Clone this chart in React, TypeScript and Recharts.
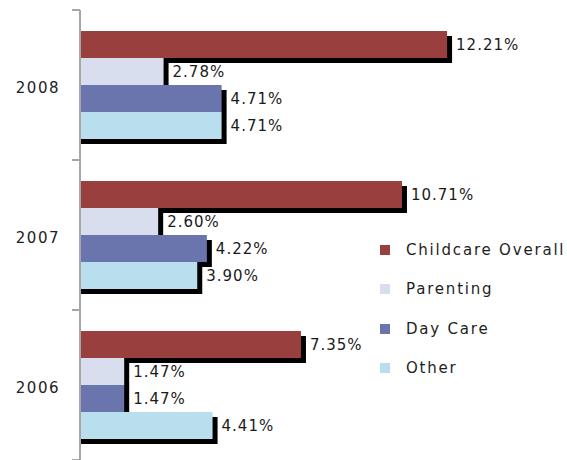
import { BarChart, Bar, XAxis, YAxis, LabelList } from 'recharts'

const years = ['2008', '2007', '2006']
const childcareOverall = [12.21, 10.71, 7.35]
const parenting = [2.78, 2.6, 1.47]
const dayCare = [4.71, 4.22, 1.47]
const other = [4.71, 3.9, 4.41]

const seriesNames = ['Childcare Overall', 'Parenting', 'Day Care', 'Other']
const seriesKeys = ['childcare', 'parenting', 'dayCare', 'other']
const seriesColors = ['#993f3d', '#d9deee', '#6b75ad', '#b9dfee']

const data = years.map((year, i) => ({
  year,
  childcare: childcareOverall[i],
  parenting: parenting[i],
  dayCare: dayCare[i],
  other: other[i],
}))

const W = 567
const H = 470
const MARGIN = { top: 10, right: 6, bottom: 10, left: 0 }
const AXIS_W = 80
const BAND = (H - MARGIN.top - MARGIN.bottom) / years.length
const FONT = '"DejaVu Sans", sans-serif'

function ShadowBar(props: any) {
  const { x, y, width, height, fill } = props
  if (width == null || height == null) return null
  return (
    <g>
      <rect x={x} y={y + 5} width={width + 5} height={height} fill="#000" />
      <rect x={x} y={y} width={width} height={height} fill={fill} />
    </g>
  )
}

function BarLabel(props: any) {
  const { x, y, width, height, value } = props
  return (
    <text
      x={Number(x) + Number(width) + 9}
      y={Number(y) + Number(height) / 2}
      dominantBaseline="central"
      fill="#1a1a1a"
      fontSize={15}
      letterSpacing={1}
      fontFamily={FONT}
    >
      {Number(value).toFixed(2)}%
    </text>
  )
}

function YearTick(props: any) {
  const { x, y, payload, index } = props
  const top = y - BAND / 2
  return (
    <g>
      <text
        x={x}
        y={y + 3}
        textAnchor="end"
        dominantBaseline="central"
        fill="#222"
        fontSize={15}
        letterSpacing={1.5}
        fontFamily={FONT}
      >
        {payload.value}
      </text>
      <line x1={AXIS_W - 8} x2={AXIS_W} y1={top} y2={top} stroke="#a6a6a6" strokeWidth={2} />
      {index === years.length - 1 && (
        <line x1={AXIS_W - 8} x2={AXIS_W} y1={top + BAND} y2={top + BAND} stroke="#a6a6a6" strokeWidth={2} />
      )}
    </g>
  )
}

export default function App() {
  return (
    <div style={{ position: 'fixed', top: 0, left: 0, width: W, height: 460, overflow: 'hidden', background: '#fff' }}>
      <BarChart
        width={W}
        height={H}
        data={data}
        layout="vertical"
        margin={MARGIN}
        barCategoryGap={21}
        barGap={0}
      >
        <XAxis type="number" domain={[0, 16]} hide />
        <YAxis
          type="category"
          dataKey="year"
          width={AXIS_W}
          axisLine={{ stroke: '#a6a6a6', strokeWidth: 2 }}
          tickLine={false}
          tickMargin={14}
          tick={<YearTick />}
        />
        {seriesKeys.map((key, i) => (
          <Bar
            key={key}
            dataKey={key}
            name={seriesNames[i]}
            fill={seriesColors[i]}
            shape={<ShadowBar />}
            isAnimationActive={false}
          >
            <LabelList dataKey={key} content={<BarLabel />} />
          </Bar>
        ))}
      </BarChart>

      {/* legend */}
      <div style={{ position: 'absolute', left: 380, top: 230, fontFamily: FONT }}>
        {seriesNames.map((name, i) => (
          <div key={name} style={{ display: 'flex', alignItems: 'center', height: 39.5, whiteSpace: 'nowrap' }}>
            <div style={{ width: 10, height: 10, background: seriesColors[i], marginRight: 16, flexShrink: 0 }} />
            <span style={{ fontSize: 15, letterSpacing: 1.8, color: '#1e1e1e' }}>{name}</span>
          </div>
        ))}
      </div>
    </div>
  )
}
